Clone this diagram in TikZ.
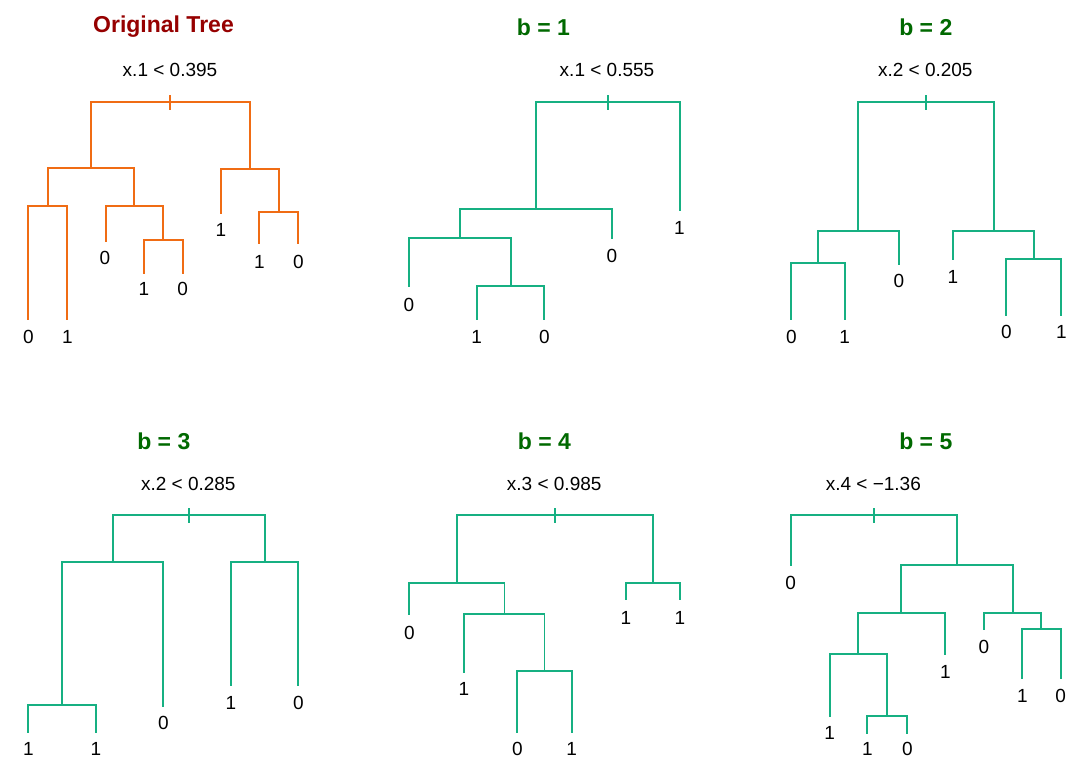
\documentclass[tikz,border=0pt]{standalone}
\usepackage{fontspec}
\setmainfont{Liberation Sans}
\definecolor{treeorange}{RGB}{240,108,20}
\definecolor{treegreen}{RGB}{22,176,130}
\definecolor{titlered}{RGB}{150,0,0}
\definecolor{titlegreen}{RGB}{0,105,0}
\tikzset{
  branch/.style={line width=1.8pt, line cap=rect},
  origbranch/.style={branch, draw=treeorange},
  bagbranch/.style={branch, draw=treegreen},
  leaflabel/.style={inner sep=0pt, font=\fontsize{19}{22}\selectfont},
  splitlabel/.style={inner sep=0pt, font=\fontsize{19}{22}\selectfont},
  toptitle/.style={inner sep=0pt, font=\bfseries\fontsize{23}{27}\selectfont},
}
\begin{document}
\begin{tikzpicture}[x=1pt,y=-1pt]
\useasboundingbox (0,0) rectangle (1088,776);
\fill[white] (0,0) rectangle (1088,776);

% ================= Panel 1: Original Tree =================
\node[toptitle, text=titlered] (t0) at (163.5,27) {Original Tree};
\node[splitlabel] (s0) at (170,70) {x.1 < 0.395};
\coordinate (a0) at (170.3,102.3);
\coordinate (aL) at (91.3,168.3);
\coordinate (aR) at (250,169);
\coordinate (aLL) at (48.3,206);
\coordinate (aLR) at (134.3,206);
\coordinate (aLRR) at (163.3,240);
\coordinate (aRR) at (279.3,212);
\coordinate (aq1) at (28.3,319.3);
\coordinate (aq2) at (67.3,319.3);
\coordinate (aq3) at (106,240.7);
\coordinate (aq4) at (144,272.7);
\coordinate (aq5) at (182.7,272.7);
\coordinate (aq6) at (221,212.7);
\coordinate (aq7) at (259.3,243.3);
\coordinate (aq8) at (298.3,243.3);
\begin{scope}[origbranch]
\draw (aL) |- (a0) -| (aR);
\draw (aLL) |- (aL) -| (aLR);
\draw (aq1) |- (aLL) -| (aq2);
\draw (aq3) |- (aLR) -| (aLRR);
\draw (aq4) |- (aLRR) -| (aq5);
\draw (aq6) |- (aR) -| (aRR);
\draw (aq7) |- (aRR) -| (aq8);
\draw ([yshift=-6.5pt]a0) -- ([yshift=6.5pt]a0);
\end{scope}
\node[leaflabel] (al1) at (28.3,336.7) {0};
\node[leaflabel] (al2) at (67.3,336.7) {1};
\node[leaflabel] (al3) at (105,258.3) {0};
\node[leaflabel] (al4) at (144,289.3) {1};
\node[leaflabel] (al5) at (182.7,289.3) {0};
\node[leaflabel] (al6) at (221,230) {1};
\node[leaflabel] (al7) at (259.3,261.7) {1};
\node[leaflabel] (al8) at (298.3,261.7) {0};

% ================= Panel 2: b = 1 =================
\node[toptitle, text=titlegreen] (t1) at (543.5,27) {b = 1};
\node[splitlabel] (s1) at (607,70) {x.1 < 0.555};
\coordinate (b0) at (608,102.3);
\coordinate (bL) at (536,209.3);
\coordinate (bLL) at (460,238);
\coordinate (bLLR) at (511,286);
\coordinate (bq1) at (680,210);
\coordinate (bq2) at (612.3,238.3);
\coordinate (bq3) at (409.3,286);
\coordinate (bq4) at (476.7,319.3);
\coordinate (bq5) at (544.3,319.3);
\begin{scope}[bagbranch]
\draw (bL) |- (b0) -| (bq1);
\draw (bLL) |- (bL) -| (bq2);
\draw (bq3) |- (bLL) -| (bLLR);
\draw (bq4) |- (bLLR) -| (bq5);
\draw ([yshift=-6.5pt]b0) -- ([yshift=6.5pt]b0);
\end{scope}
\node[leaflabel] (bl1) at (679.5,228.3) {1};
\node[leaflabel] (bl2) at (612,256) {0};
\node[leaflabel] (bl3) at (409,305) {0};
\node[leaflabel] (bl4) at (476.7,336.7) {1};
\node[leaflabel] (bl5) at (544.3,336.7) {0};

% ================= Panel 3: b = 2 =================
\node[toptitle, text=titlegreen] (t2) at (925.8,27) {b = 2};
\node[splitlabel] (s2) at (925.3,70) {x.2 < 0.205};
\coordinate (c0) at (925.8,102.3);
\coordinate (cL) at (858,231);
\coordinate (cR) at (993.7,231);
\coordinate (cLL) at (818,263.3);
\coordinate (cRR) at (1034,259.3);
\coordinate (cq1) at (791.3,319.3);
\coordinate (cq2) at (844.7,319.3);
\coordinate (cq3) at (899,264.3);
\coordinate (cq4) at (953,259.3);
\coordinate (cq5) at (1006.3,315);
\coordinate (cq6) at (1061.3,315);
\begin{scope}[bagbranch]
\draw (cL) |- (c0) -| (cR);
\draw (cLL) |- (cL) -| (cq3);
\draw (cq1) |- (cLL) -| (cq2);
\draw (cq4) |- (cR) -| (cRR);
\draw (cq5) |- (cRR) -| (cq6);
\draw ([yshift=-6.5pt]c0) -- ([yshift=6.5pt]c0);
\end{scope}
\node[leaflabel] (cl1) at (791.3,336.7) {0};
\node[leaflabel] (cl2) at (844.7,336.7) {1};
\node[leaflabel] (cl3) at (899,281) {0};
\node[leaflabel] (cl4) at (953,276.7) {1};
\node[leaflabel] (cl5) at (1006.3,331.7) {0};
\node[leaflabel] (cl6) at (1061.3,331.7) {1};

% ================= Panel 4: b = 3 =================
\node[toptitle, text=titlegreen] (t3) at (163.8,441) {b = 3};
\node[splitlabel] (s3) at (188.3,484.3) {x.2 < 0.285};
\coordinate (d0) at (189.2,515.3);
\coordinate (dL) at (113.3,561.7);
\coordinate (dR) at (265,561.7);
\coordinate (dLL) at (62.2,705.3);
\coordinate (dq1) at (28.3,732);
\coordinate (dq2) at (96,732);
\coordinate (dq3) at (163.3,706);
\coordinate (dq4) at (231,685.3);
\coordinate (dq5) at (298.3,685.3);
\begin{scope}[bagbranch]
\draw (dL) |- (d0) -| (dR);
\draw (dLL) |- (dL) -| (dq3);
\draw (dq1) |- (dLL) -| (dq2);
\draw (dq4) |- (dR) -| (dq5);
\draw ([yshift=-6.5pt]d0) -- ([yshift=6.5pt]d0);
\end{scope}
\node[leaflabel] (dl1) at (28.3,749.3) {1};
\node[leaflabel] (dl2) at (96,749.3) {1};
\node[leaflabel] (dl3) at (163.3,723.3) {0};
\node[leaflabel] (dl4) at (231,703.3) {1};
\node[leaflabel] (dl5) at (298.3,703.3) {0};

% ================= Panel 5: b = 4 =================
\node[toptitle, text=titlegreen] (t4) at (544.5,441) {b = 4};
\node[splitlabel] (s4) at (554.2,484.3) {x.3 < 0.985};
\coordinate (e0) at (554.7,515.3);
\coordinate (eL) at (456.7,582.7);
\coordinate (eR) at (653,582.7);
\coordinate (eLR) at (504.5,614.3);
\coordinate (eLRR) at (544.5,671);
\coordinate (eq1) at (409.3,614.3);
\coordinate (eq2) at (464,671.7);
\coordinate (eq3) at (517.3,732);
\coordinate (eq4) at (571.7,732);
\coordinate (eq5) at (626,599.3);
\coordinate (eq6) at (680,599.3);
\begin{scope}[bagbranch]
\draw (eL) |- (e0) -| (eR);
\draw (eq1) |- (eL) -| (eLR);
\draw (eq2) |- (eLR) -| (eLRR);
\draw (eq3) |- (eLRR) -| (eq4);
\draw (eq5) |- (eR) -| (eq6);
\draw ([yshift=-6.5pt]e0) -- ([yshift=6.5pt]e0);
\end{scope}
\node[leaflabel] (el1) at (409.3,632.7) {0};
\node[leaflabel] (el2) at (464,689.3) {1};
\node[leaflabel] (el3) at (517.3,749.3) {0};
\node[leaflabel] (el4) at (571.7,749.3) {1};
\node[leaflabel] (el5) at (626,617.7) {1};
\node[leaflabel] (el6) at (680,617.7) {1};

% ================= Panel 6: b = 5 =================
\node[toptitle, text=titlegreen] (t5) at (925.8,441) {b = 5};
\node[splitlabel] (s5) at (873.3,484.3) {x.4 < \symbol{"2212}1.36};
\coordinate (f0) at (873.8,515.3);
\coordinate (fR) at (957,565);
\coordinate (fRL) at (901.3,613.3);
\coordinate (fRR) at (1013,613.3);
\coordinate (fRLL) at (858,653.7);
\coordinate (fRLLR) at (887.3,716);
\coordinate (fRRR) at (1041.3,629.3);
\coordinate (fq1) at (790.7,565);
\coordinate (fq2) at (945.3,654.3);
\coordinate (fq3) at (829.7,716);
\coordinate (fq4) at (867.3,732.7);
\coordinate (fq5) at (907.3,732.7);
\coordinate (fq6) at (984,629.3);
\coordinate (fq7) at (1022.3,678.3);
\coordinate (fq8) at (1060.7,678.3);
\begin{scope}[bagbranch]
\draw (fq1) |- (f0) -| (fR);
\draw (fRL) |- (fR) -| (fRR);
\draw (fRLL) |- (fRL) -| (fq2);
\draw (fq3) |- (fRLL) -| (fRLLR);
\draw (fq4) |- (fRLLR) -| (fq5);
\draw (fq6) |- (fRR) -| (fRRR);
\draw (fq7) |- (fRRR) -| (fq8);
\draw ([yshift=-6.5pt]f0) -- ([yshift=6.5pt]f0);
\end{scope}
\node[leaflabel] (fl1) at (790.7,582.7) {0};
\node[leaflabel] (fl2) at (945.3,672) {1};
\node[leaflabel] (fl3) at (829.7,733.3) {1};
\node[leaflabel] (fl4) at (867.3,749.3) {1};
\node[leaflabel] (fl5) at (907.3,749.3) {0};
\node[leaflabel] (fl6) at (984,646.7) {0};
\node[leaflabel] (fl7) at (1022.3,696) {1};
\node[leaflabel] (fl8) at (1060.7,696) {0};
\end{tikzpicture}
\end{document}
